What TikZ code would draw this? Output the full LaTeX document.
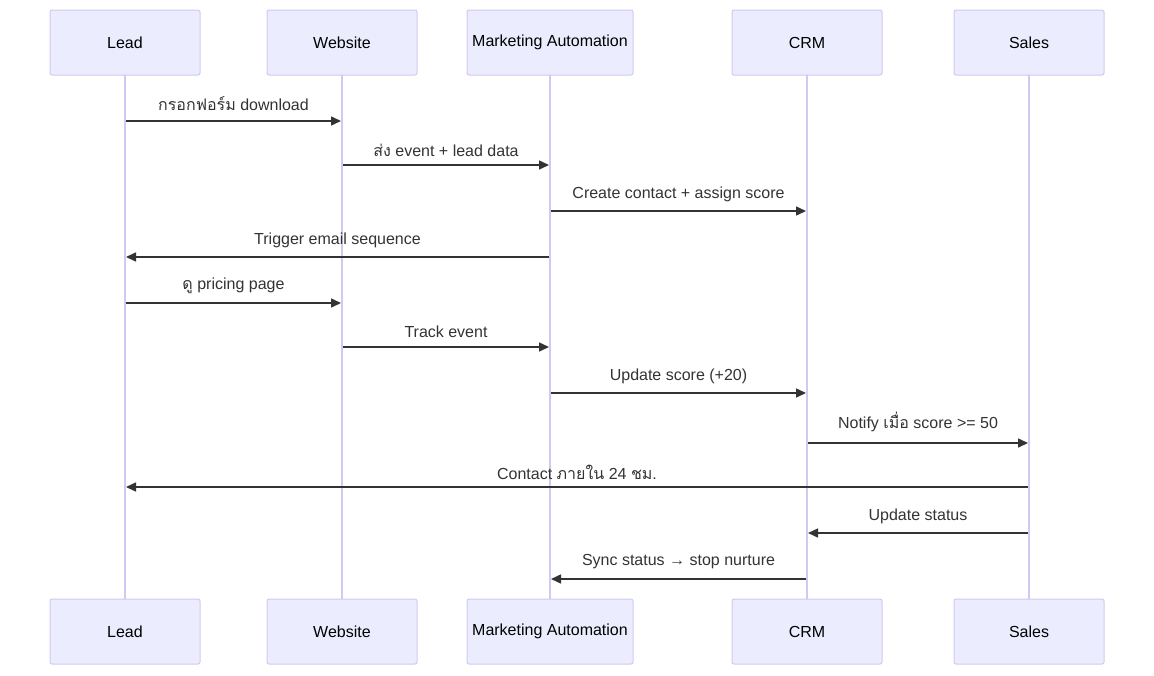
\documentclass[tikz,border=0pt]{standalone}
\usepackage{fontspec}
\setmainfont{Liberation Sans}
\newfontfamily\thaifont[Script=Thai]{Loma}
\usetikzlibrary{arrows.meta}
\definecolor{actfill}{HTML}{ECECFF}
\definecolor{actline}{HTML}{D2C8F0}
\definecolor{txt}{HTML}{333333}
\newcommand{\thx}[1]{{\thaifont #1}}
\begin{document}
\begin{tikzpicture}[x=1pt,y=-1pt,
  actor/.style={draw=actline,fill=actfill,line width=1pt,rounded corners=2pt,minimum height=65pt,inner sep=0pt,text=black,font=\fontsize{16}{19}\selectfont},
  life/.style={draw=actline,line width=1.5pt},
  msg/.style={draw=txt,line width=1.5pt,-{Triangle[length=10pt,width=9pt]}},
  lab/.style={text=txt,font=\fontsize{16}{19}\selectfont,inner sep=0pt}]
\useasboundingbox (0,0) rectangle (1154,675);
\foreach \n/\x/\w/\t in {L/125/150/Lead,W/342/150/Website,M/550/166/Marketing Automation,C/807/150/CRM,S/1029/150/Sales}{
  \draw[life] (\x,75) -- (\x,599);
  \node[actor,minimum width=\w pt] (\n t) at (\x,42.5) {\t};
  \node[actor,minimum width=\w pt] (\n b) at (\x,631.5) {\t};
}
\foreach \a/\b/\y/\ly/\t in {
 125/342/121/104/{\thx{กรอกฟอร์ม} download},
 342/550/165/150/{\thx{ส่ง} event + lead data},
 550/807/211/194/{Create contact + assign score},
 550/125/257/240/{Trigger email sequence},
 125/342/303/286/{\thx{ดู} pricing page},
 342/550/347/332/{Track event},
 550/807/393/376/{Update score (+20)},
 807/1029/443/422/{Notify \thx{เมื่อ} score >= 50},
 1029/125/487/472/{Contact \thx{ภายใน} 24 \thx{ชม.}},
 1029/807/533/516/{Update status},
 807/550/579/562/{Sync status → stop nurture}}{
 \pgfmathsetmacro{\s}{\a<\b ? 1 : -1}
 \coordinate (p) at (\a+\s,\y);
 \coordinate (q) at (\b-\s,\y);
 \draw[msg] (p) -- (q);
 \node[lab] (l) at ({(\a+\b)/2},\ly) {\t};
}
\end{tikzpicture}
\end{document}
